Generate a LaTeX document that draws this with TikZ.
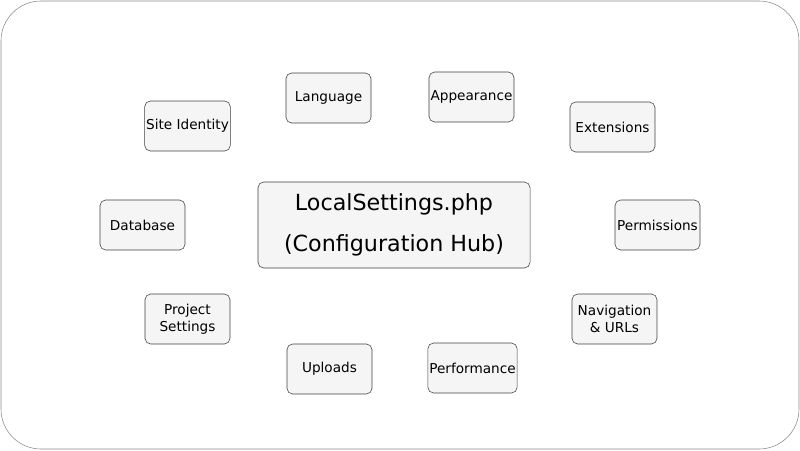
\documentclass[tikz,border=0pt]{standalone}
\usepackage{fontspec}
\setmainfont{DejaVu Sans}
\usetikzlibrary{positioning}

\begin{document}
\begin{tikzpicture}[x=0.025cm,y=-0.025cm,
         setting/.style = {draw=black!75,fill=black!4,rounded corners=4pt,
         minimum width=2.125cm,minimum height=1.25cm,inner sep=1pt,
         align=center,font=\fontsize{9.7}{12}\selectfont},
         hub/.style = {setting,minimum width=6.8cm,minimum height=2.15cm,
         font=\fontsize{15.8}{29.5}\selectfont}
]
   \useasboundingbox (0,0) rectangle (800,450);
   % frame
   \draw[black!45,rounded corners=1cm] (1,1) rectangle (799,449);

   % hub
   \node[hub] (hub) at (394,225) {LocalSettings.php\\(Configuration Hub)};

   % settings around the hub
   \node[setting] (site)   at (187.5,126) {Site Identity};
   \node[setting] (lang)   at (328.5,98)  {Language};
   \node[setting] (look)   at (471.5,97)  {Appearance};
   \node[setting] (ext)    at (612.5,127) {Extensions};
   \node[setting] (db)     at (142.5,225) {Database};
   \node[setting] (perm)   at (657.5,225) {Permissions};
   \node[setting] (proj)   at (187.5,319) {Project\\Settings};
   \node[setting] (nav)    at (614.5,319) {Navigation\\\& URLs};
   \node[setting] (upload) at (329.5,369) {Uploads};
   \node[setting] (perf)   at (472.5,368) {Performance};
\end{tikzpicture}
\end{document}
